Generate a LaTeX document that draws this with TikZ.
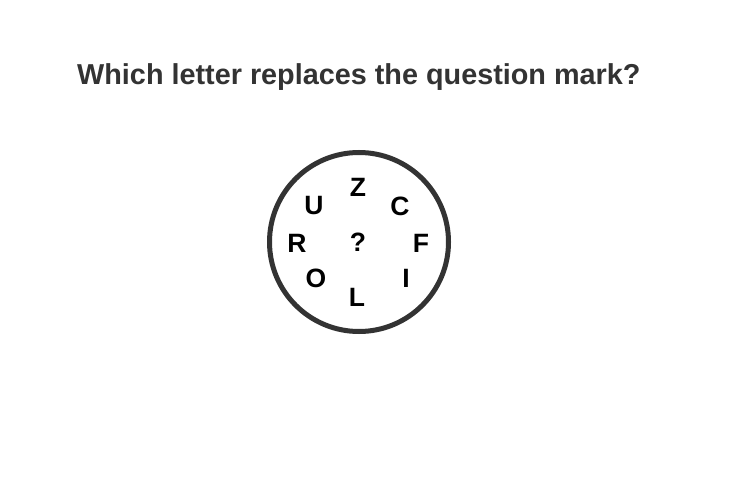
\documentclass[tikz,border=0pt]{standalone}
\usepackage{fontspec}
\setmainfont{Liberation Sans}
\definecolor{ink}{HTML}{333333}
\begin{document}
\begin{tikzpicture}[x=1pt,y=-1pt,
  letter/.style={font=\fontsize{26.5}{26.5}\selectfont\bfseries, text=black, inner sep=0pt},
  title/.style={font=\fontsize{28.8}{28.8}\selectfont\bfseries, text=ink, inner sep=0pt, anchor=base west}]
\useasboundingbox[fill=white] (0,0) rectangle (741,492);
\node[title] (t) at (77,85) {Which letter replaces the question mark?};
\node[draw=ink, line width=5pt, circle, minimum size=179pt, inner sep=0pt] (c) at (359,242) {};
\node[letter] (Z) at (358,187) {Z};
\node[letter] (C) at (400,206) {C};
\node[letter] (F) at (421,243) {F};
\node[letter] (I) at (406,278) {I};
\node[letter] (L) at (357,297) {L};
\node[letter] (O) at (316,278) {O};
\node[letter] (R) at (297,243) {R};
\node[letter] (U) at (314,206) {U};
\node[letter] (q) at (358,242) {?};
\end{tikzpicture}
\end{document}
